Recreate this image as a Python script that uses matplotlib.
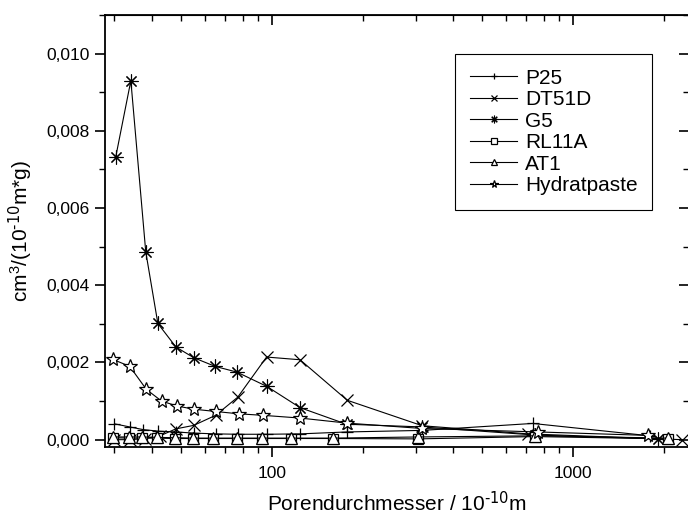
import matplotlib
matplotlib.use("Agg")
import matplotlib.pyplot as plt
from matplotlib.ticker import MultipleLocator, FuncFormatter, LogLocator, NullFormatter

plt.rcParams['font.family'] = ['Liberation Sans', 'DejaVu Sans']
plt.rcParams['mathtext.default'] = 'regular'

# pore diameter (10^-10 m) and differential pore volume per sample
x_p25 = [30, 33.7, 37.4, 42, 48, 55, 65, 77, 96, 124, 178, 316, 735, 1800]
y_p25 = [0.00041, 0.00033, 0.00026, 0.00022, 0.0002, 0.00017, 0.00015,
         0.00014, 0.00014, 0.00015, 0.0002, 0.00024, 0.00042, 0.0001]

x_dt51d = [30, 33.7, 38, 42.5, 48, 55, 65, 77, 96, 124, 178, 316, 710, 2300]
y_dt51d = [0.0, 0.0, 0.00003, 0.0001, 0.00028, 0.00037, 0.00063, 0.0011,
           0.00214, 0.00207, 0.00102, 0.00036, 0.00015, 0.0]

x_g5 = [30.3, 34, 38.1, 41.8, 48, 55.1, 64.7, 76.5, 96.2, 124, 177, 315, 748, 1914]
y_g5 = [0.00733, 0.0093, 0.00487, 0.00301, 0.0024, 0.00212, 0.0019, 0.00175,
        0.00138, 0.00083, 0.0004, 0.00033, 0.00012, 0.00002]

x_rl11a = [29.6, 33.5, 37, 41.5, 47.6, 54.7, 63.7, 76.5, 92.6, 116, 159, 306, 750, 2070]
y_rl11a = [0.00005, 0.00004, 0.00004, 0.00004, 0.00003, 0.00003, 0.00003,
           0.00003, 0.00003, 0.00003, 0.00003, 0.00002, 0.00008, 0.00002]

x_at1 = [29.6, 33.5, 37, 41.5, 47.6, 54.7, 63.7, 76.5, 92.6, 116, 159, 306, 750, 2070]
y_at1 = [0.00007, 0.00007, 0.00007, 0.00006, 0.00005, 0.00004, 0.00004,
         0.00004, 0.00004, 0.00004, 0.00004, 0.00007, 0.0001, 0.00004]

x_hydr = [29.6, 33.7, 38.3, 43, 48.5, 55, 65, 77.5, 93.5, 124, 177, 315, 765, 1780]
y_hydr = [0.00208, 0.0019, 0.0013, 0.001, 0.00087, 0.00079, 0.00073, 0.00067,
          0.00063, 0.00056, 0.00043, 0.00029, 0.0002, 0.00011]

fig = plt.figure(figsize=(6.88, 5.16), dpi=100)
ax = fig.add_axes([105 / 688, 1 - 447 / 516, 584 / 688, 432 / 516])

lw = 0.8
ax.plot(x_p25, y_p25, color='black', lw=lw, marker='+', ms=8, mew=0.9, label='P25')
ax.plot(x_dt51d, y_dt51d, color='black', lw=lw, marker='x', ms=8.5, mew=0.9, label='DT51D')
ax.plot(x_g5, y_g5, color='black', lw=lw, marker=(8, 2, 0), ms=10, mew=0.8, label='G5')
ax.plot(x_rl11a, y_rl11a, color='black', lw=lw, marker='s', ms=7.5, mew=0.9,
        mfc='white', label='RL11A')
ax.plot(x_at1, y_at1, color='black', lw=lw, marker='^', ms=8.5, mew=0.9,
        mfc='white', label='AT1')
ax.plot(x_hydr, y_hydr, color='black', lw=lw, marker='*', ms=10, mew=0.9,
        mfc='white', label='Hydratpaste')

ax.set_xscale('log')
ax.set_xlim(27.9, 2430)
ax.set_ylim(-0.00019, 0.011)

ax.xaxis.set_major_locator(LogLocator(base=10))
ax.xaxis.set_minor_locator(LogLocator(base=10, subs=range(2, 10)))
ax.xaxis.set_minor_formatter(NullFormatter())
ax.xaxis.set_major_formatter(FuncFormatter(lambda v, p: f"{v:.0f}"))
ax.yaxis.set_major_locator(MultipleLocator(0.002))
ax.yaxis.set_minor_locator(MultipleLocator(0.001))
ax.yaxis.set_major_formatter(FuncFormatter(lambda v, p: f"{v:.3f}".replace('.', ',')))

for s in ax.spines.values():
    s.set_linewidth(1.3)

ax.tick_params(which='major', direction='out', length=7, width=1.2, labelsize=12.5, pad=4)
ax.tick_params(which='minor', direction='out', length=4, width=1.0)
ax.tick_params(axis='x', which='major', pad=7)

top = ax.secondary_xaxis('top')
top.xaxis.set_minor_locator(LogLocator(base=10, subs=range(2, 10)))
top.tick_params(which='major', direction='in', length=7, width=1.2, labeltop=False)
top.tick_params(which='minor', direction='in', length=4, width=1.0, labeltop=False)
top.xaxis.set_major_formatter(NullFormatter())
top.xaxis.set_minor_formatter(NullFormatter())

right = ax.secondary_yaxis('right')
right.yaxis.set_major_locator(MultipleLocator(0.002))
right.yaxis.set_minor_locator(MultipleLocator(0.001))
right.tick_params(which='major', direction='in', length=7, width=1.2, labelright=False)
right.tick_params(which='minor', direction='in', length=4, width=1.0, labelright=False)

ax.set_xlabel(r'Porendurchmesser / 10$^{\text{-10}}$m', fontsize=15, labelpad=7)
ax.set_ylabel(r'cm$^3$/(10$^{\text{-10}}$m*g)', fontsize=15, labelpad=8)

leg = ax.legend(loc='upper left', bbox_to_anchor=((455 - 105) / 584, (447 - 54) / 432),
                borderaxespad=0, fontsize=15, markerscale=0.55, handlelength=2.3,
                handletextpad=0.35, labelspacing=0.12, borderpad=0.7,
                fancybox=False, framealpha=1)
leg.get_frame().set_edgecolor('black')
leg.get_frame().set_linewidth(0.8)

fig.savefig('out.png', dpi=100)
